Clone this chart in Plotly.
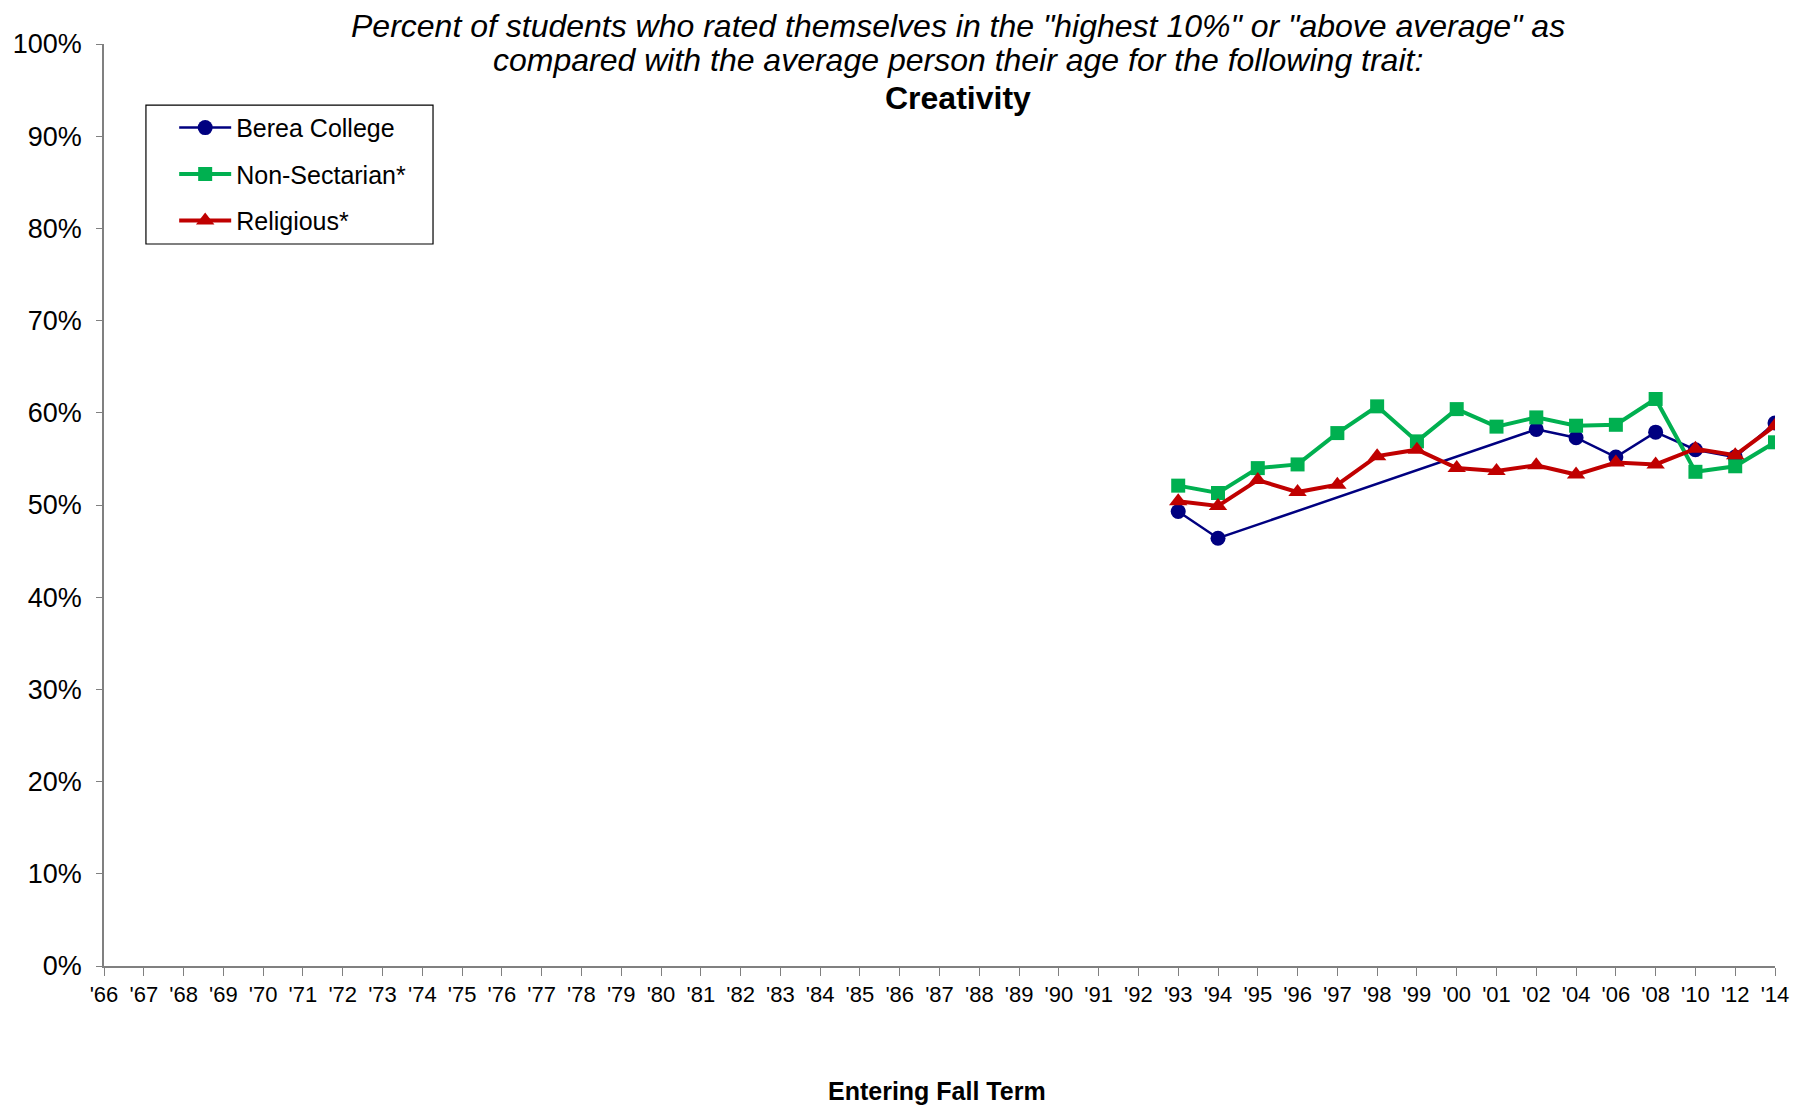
import plotly.graph_objects as go

# Categorias do eixo X (anos de entrada)
anos = ["'66", "'67", "'68", "'69", "'70", "'71", "'72", "'73", "'74", "'75", "'76", "'77",
        "'78", "'79", "'80", "'81", "'82", "'83", "'84", "'85", "'86", "'87", "'88", "'89",
        "'90", "'91", "'92", "'93", "'94", "'95", "'96", "'97", "'98", "'99", "'00", "'01",
        "'02", "'04", "'06", "'08", "'10", "'12", "'14"]

anos_dados = ["'93", "'94", "'95", "'96", "'97", "'98", "'99", "'00", "'01", "'02",
              "'04", "'06", "'08", "'10", "'12", "'14"]

berea = [0.493, 0.464, None, None, None, None, None, None, None, 0.582,
         0.573, 0.552, 0.579, 0.560, 0.552, 0.589]
nao_sectaria = [0.521, 0.513, 0.540, 0.544, 0.578, 0.607, 0.569, 0.604, 0.585, 0.595,
                0.586, 0.587, 0.615, 0.536, 0.542, 0.568]
religiosa = [0.504, 0.499, 0.527, 0.514, 0.522, 0.553, 0.560, 0.540, 0.537, 0.543,
             0.533, 0.546, 0.544, 0.561, 0.554, 0.586]

titulo_linhas = ['<i>Percent of students who rated themselves in the "highest 10%" or "above average" as</i>',
                 '<i>compared with the average person their age for the following trait:</i>',
                 '<b>Creativity</b>']

fonte = 'Liberation Sans, Arial, sans-serif'

fig = go.Figure()

fig.add_trace(go.Scatter(x=anos_dados, y=berea, name='Berea College', mode='lines+markers',
                         connectgaps=True, legendgroup='a',
                         line=dict(color='#000080', width=2.5),
                         marker=dict(symbol='circle', size=15, color='#000080')))
fig.add_trace(go.Scatter(x=anos_dados, y=nao_sectaria, name='Non-Sectarian*', mode='lines+markers',
                         legendgroup='b',
                         line=dict(color='#00B050', width=4),
                         marker=dict(symbol='square', size=14, color='#00B050')))
fig.add_trace(go.Scatter(x=anos_dados, y=religiosa, name='Religious*', mode='lines+markers',
                         legendgroup='c',
                         line=dict(color='#C00000', width=4),
                         marker=dict(symbol='triangle-up', size=16, color='#C00000')))

# o body da página tem margem de 8px: compensa no tamanho e nas margens
fig.update_layout(
    autosize=False, width=1804, height=1099,
    paper_bgcolor='white', plot_bgcolor='white',
    margin=dict(l=96, r=37, t=36, b=141),
    font=dict(family=fonte, color='black'),
    showlegend=True,
    legend=dict(x=0.042, y=0.934, xanchor='left', yanchor='top',
                borderwidth=0, bgcolor='rgba(0,0,0,0)',
                font=dict(size=25), tracegroupgap=11, itemwidth=52),
    xaxis=dict(type='category', categoryorder='array', categoryarray=anos,
               tickmode='array', tickvals=anos, ticktext=anos,
               range=[0, len(anos) - 1], automargin=False,
               showline=True, linecolor='#808080', linewidth=1.5,
               ticks='outside', ticklen=8, tickcolor='#808080',
               showgrid=False, zeroline=False,
               tickfont=dict(size=22), tickangle=0),
    yaxis=dict(range=[0, 1], dtick=0.1, tickformat='.0%', automargin=False,
               showline=True, linecolor='#808080', linewidth=1.5,
               ticks='outside', ticklen=6, tickcolor='#808080',
               ticklabelstandoff=9,
               showgrid=False, zeroline=False,
               tickfont=dict(size=27)),
)

# caixa da legenda
fig.add_shape(type='rect', xref='paper', yref='paper', x0=0.0251, x1=0.1969, y0=0.7831, y1=0.9338,
              line=dict(color='black', width=1.2), fillcolor='rgba(0,0,0,0)')

# Título em três linhas
for texto, yy in zip(titulo_linhas, [1.0195, 0.9826, 0.9414]):
    fig.add_annotation(xref='paper', yref='paper', x=0.511, y=yy, yanchor='middle',
                       showarrow=False, text=texto, font=dict(size=32, family=fonte))

fig.add_annotation(xref='paper', yref='paper', x=0.4985, y=-0.1356, yanchor='middle',
                   showarrow=False, text='<b>Entering Fall Term</b>',
                   font=dict(size=25, family=fonte))

fig.write_html("out.html")
